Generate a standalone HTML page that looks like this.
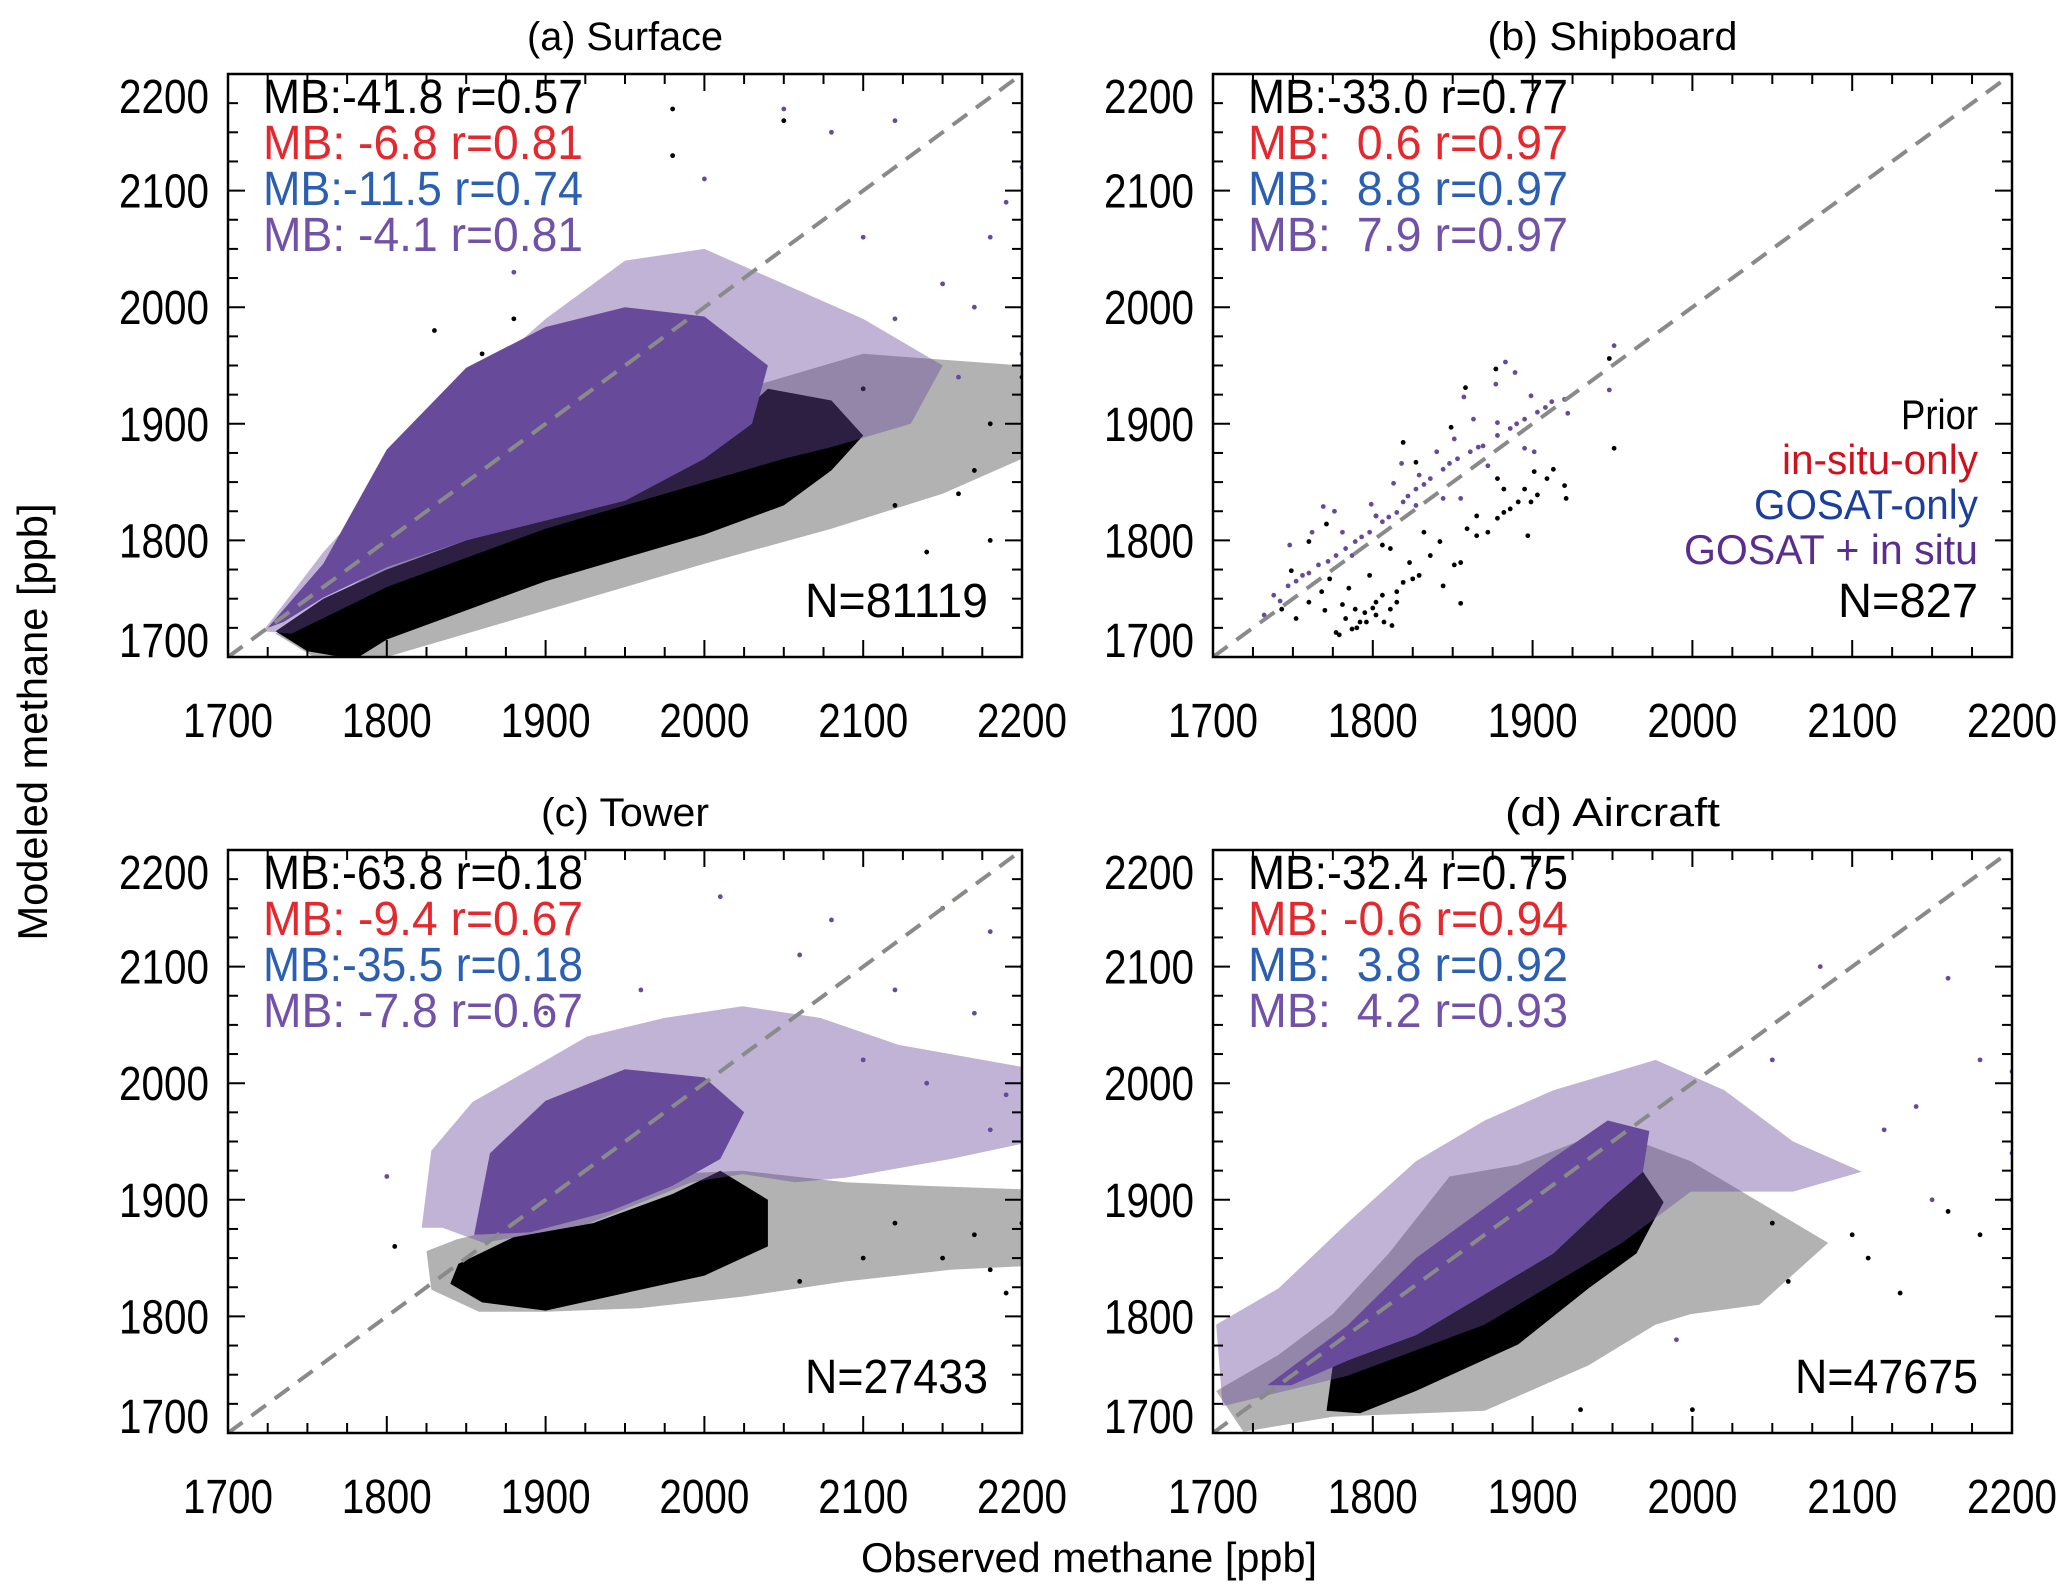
<!DOCTYPE html>
<html><head><meta charset="utf-8"><style>
html,body{margin:0;padding:0;background:#fff;}
svg{display:block;font-family:"Liberation Sans",Arial,sans-serif;}
text{white-space:pre;}
</style></head><body>
<svg id="fig" width="2067" height="1596" viewBox="0 0 2067 1596" xmlns="http://www.w3.org/2000/svg">
<text x="1089" y="1572" font-size="42" text-anchor="middle" textLength="456" lengthAdjust="spacingAndGlyphs">Observed methane [ppb]</text>
<text x="0" y="0" font-size="42" text-anchor="middle" textLength="437" lengthAdjust="spacingAndGlyphs" transform="translate(47,722) rotate(-90)">Modeled methane [ppb]</text>
</svg>
<script>
const tickVals = [1700,1800,1900,2000,2100,2200];
const tickLabels = ["1700","1800","1900","2000","2100","2200"];
const panelTitles = ["(a) Surface","(b) Shipboard","(c) Tower","(d) Aircraft"];
const panelCounts = ["N=81119","N=827","N=27433","N=47675"];
const statsA = ["MB:-41.8 r=0.57","MB: -6.8 r=0.81","MB:-11.5 r=0.74","MB: -4.1 r=0.81"];
const statsB = ["MB:-33.0 r=0.77","MB:  0.6 r=0.97","MB:  8.8 r=0.97","MB:  7.9 r=0.97"];
const statsC = ["MB:-63.8 r=0.18","MB: -9.4 r=0.67","MB:-35.5 r=0.18","MB: -7.8 r=0.67"];
const statsD = ["MB:-32.4 r=0.75","MB: -0.6 r=0.94","MB:  3.8 r=0.92","MB:  4.2 r=0.93"];
const legendLabels = ["Prior","in-situ-only","GOSAT-only","GOSAT + in situ"];

// Panel (a) Surface
const aBlackHalo = [[1730,1720],[1800,1780],[1850,1850],[1900,1900],[2000,1920],[2100,1960],[2200,1950],[2200,1870],[2150,1840],[2080,1810],[2000,1780],[1900,1740],[1800,1700],[1760,1695]];
const aBlackCore = [[1730,1722],[1750,1705],[1780,1698],[1800,1715],[1850,1740],[1900,1765],[1950,1785],[2000,1805],[2050,1830],[2080,1860],[2100,1890],[2080,1920],[2040,1930],[2000,1880],[1950,1840],[1900,1820],[1850,1800],[1800,1775],[1760,1750]];
const aPurpleHalo = [[1722,1722],[1760,1790],[1800,1850],[1850,1930],[1900,1990],[1950,2040],[2000,2050],[2050,2020],[2100,1990],[2150,1950],[2130,1900],[2080,1880],[2050,1870],[2000,1850],[1900,1810],[1800,1760],[1740,1720]];
const aPurpleCore = [[1725,1725],[1760,1780],[1800,1878],[1850,1948],[1900,1983],[1950,2000],[2000,1992],[2040,1950],[2030,1900],[2000,1870],[1950,1834],[1900,1817],[1850,1800],[1800,1777],[1760,1751],[1735,1730]];
const aBlackPts = [[1980,2170],[2050,2160],[1980,2130],[1830,1980],[2100,1930],[2180,1900],[2180,1800],[2160,1840],[1810,1730],[1900,1970],[2200,1940],[2140,1790],[1860,1960],[1880,1990],[2170,1860],[2120,1830]];
const aPurplePts = [[2050,2170],[2080,2150],[2120,2160],[2200,2120],[2000,2110],[2180,2060],[2150,2020],[2200,1960],[2120,1990],[2170,2000],[1880,2030],[2190,2090],[2100,2060],[2160,1940]];

// Panel (b) Shipboard
const bBlackPts = [[1743,1741],[1752,1733],[1760,1747],[1768,1756],[1777,1721],[1779,1719],[1783,1733],[1789,1741],[1796,1730],[1802,1747],[1806,1753],[1811,1741],[1815,1756],[1819,1764],[1785,1759],[1773,1767],[1798,1770],[1811,1793],[1823,1781],[1829,1770],[1836,1787],[1842,1799],[1844,1761],[1851,1779],[1855,1781],[1859,1810],[1865,1821],[1872,1807],[1878,1819],[1882,1824],[1886,1827],[1891,1833],[1895,1844],[1899,1833],[1903,1839],[1909,1853],[1913,1861],[1920,1847],[1921,1836],[1878,1853],[1882,1844],[1901,1859],[1897,1804],[1865,1804],[1832,1807],[1806,1796],[1802,1821],[1819,1884],[1827,1867],[1849,1897],[1858,1931],[1877,1947],[1948,1956],[1951,1879],[1855,1746],[1760,1799],[1771,1814],[1749,1774],[1792,1730],[1802,1736],[1807,1730],[1815,1747],[1825,1767],[1790,1725],[1795,1738],[1812,1727],[1781,1745],[1770,1740],[1787,1724],[1800,1742]];
const bPurplePts = [[1732,1736],[1738,1753],[1747,1761],[1756,1770],[1766,1779],[1777,1787],[1783,1793],[1789,1799],[1798,1807],[1806,1816],[1815,1824],[1819,1833],[1827,1844],[1836,1853],[1844,1861],[1853,1870],[1861,1876],[1869,1881],[1878,1890],[1886,1896],[1895,1904],[1903,1910],[1912,1919],[1920,1921],[1769,1829],[1776,1825],[1748,1796],[1762,1807],[1799,1831],[1818,1866],[1813,1849],[1840,1876],[1851,1887],[1857,1923],[1863,1904],[1877,1934],[1883,1953],[1889,1944],[1948,1929],[1951,1967],[1899,1924],[1827,1830],[1844,1836],[1855,1836],[1895,1879],[1901,1876],[1922,1909],[1787,1787],[1781,1807],[1802,1821],[1829,1856],[1872,1864],[1878,1901],[1742,1748],[1752,1765],[1760,1772],[1772,1782],[1793,1803],[1810,1820],[1822,1838],[1832,1848],[1848,1866],[1866,1880],[1890,1900],[1908,1914]];

// Panel (c) Tower
const cBlackHalo = [[1825,1856],[1844,1866],[1893,1882],[1975,1922],[2024,1925],[2089,1915],[2138,1912],[2200,1909],[2200,1843],[2155,1840],[2089,1830],[2024,1817],[1959,1807],[1900,1804],[1858,1804],[1828,1823]];
const cBlackCore = [[1845,1845],[1880,1868],[1930,1880],[1980,1905],[2010,1925],[2040,1900],[2040,1860],[2000,1835],[1950,1820],[1900,1805],[1860,1812],[1840,1828]];
const cPurpleHalo = [[1822,1876],[1828,1942],[1854,1984],[1893,2014],[1926,2040],[1975,2056],[2024,2066],[2073,2056],[2122,2033],[2200,2014],[2200,1948],[2155,1935],[2089,1919],[2057,1915],[2024,1922],[1992,1915],[1926,1879],[1861,1863],[1835,1876]];
const cPurpleCore = [[1855,1870],[1865,1940],[1900,1985],[1950,2012],[2000,2005],[2025,1975],[2010,1935],[1980,1912],[1940,1890],[1890,1872]];
const cBlackPts = [[1805,1860],[2200,1880],[2190,1820],[2150,1850],[2120,1880],[2170,1870],[2060,1830],[1990,1950],[2180,1840],[2100,1850]];
const cPurplePts = [[2010,2160],[2080,2140],[2150,2150],[2180,2130],[2200,2100],[1960,2080],[2120,2080],[1900,2060],[1800,1920],[2060,2110],[2170,2060],[2100,2020],[2190,1990],[2140,2000],[2180,1960]];

// Panel (d) Aircraft
const dBlackHalo = [[1702,1736],[1741,1767],[1775,1802],[1810,1854],[1848,1920],[1891,1930],[1947,1960],[1999,1933],[2042,1898],[2085,1863],[2042,1810],[1999,1802],[1977,1793],[1935,1758],[1870,1719],[1775,1714],[1719,1701]];
const dBlackCore = [[1771,1719],[1775,1758],[1827,1784],[1870,1819],[1913,1854],[1947,1898],[1969,1924],[1982,1898],[1965,1854],[1935,1824],[1891,1776],[1827,1736],[1792,1717]];
const dPurpleHalo = [[1702,1793],[1741,1824],[1784,1880],[1827,1933],[1870,1968],[1913,1994],[1977,2020],[2020,1994],[2063,1950],[2106,1924],[2063,1907],[1999,1907],[1956,1863],[1870,1793],[1784,1749],[1706,1723]];
const dPurpleCore = [[1734,1741],[1784,1792],[1827,1850],[1870,1893],[1913,1936],[1947,1968],[1973,1959],[1969,1924],[1947,1898],[1913,1854],[1870,1819],[1827,1784],[1784,1762],[1749,1741]];
const dBlackPts = [[2100,1870],[2180,1870],[2060,1830],[2130,1820],[2000,1720],[1930,1720],[2050,1880],[2110,1850],[2200,1900],[2160,1890]];
const dPurplePts = [[2150,1900],[2120,1960],[2200,1940],[2080,2100],[2160,2090],[2200,2010],[2050,2020],[2140,1980],[2180,2020],[1990,1780]];

const COL = {black:"#000", purple:"#684a9b", red:"#e3282e", blue:"#2b5fb2", purpleTxt:"#7152a8"};
const legendColors = ["#000","#d0101c","#1c3f9c","#5a2d8f"];
const statColors = ["#000", COL.red, COL.blue, COL.purpleTxt];

const NS = "http://www.w3.org/2000/svg";
const svg = document.getElementById('fig');
function mk(tag, attrs, parent){ const e=document.createElementNS(NS,tag); for(const k in attrs) e.setAttribute(k,attrs[k]); (parent||svg).appendChild(e); return e; }

const boxes = [
  {L:228,R:1022,T:74,B:657},
  {L:1213,R:2012,T:74,B:657},
  {L:228,R:1022,T:850,B:1433},
  {L:1213,R:2012,T:850,B:1433}
];
const clouds = [
  [aBlackHalo,aBlackCore,aPurpleHalo,aPurpleCore,aBlackPts,aPurplePts],
  [null,null,null,null,bBlackPts,bPurplePts],
  [cBlackHalo,cBlackCore,cPurpleHalo,cPurpleCore,cBlackPts,cPurplePts],
  [dBlackHalo,dBlackCore,dPurpleHalo,dPurpleCore,dBlackPts,dPurplePts]
];
const stats = [statsA,statsB,statsC,statsD];
const keys = ['a','b','c','d'];
const titleLens = [196,250,168,215];
const countLens = [183,140,183,183];
const legendLens = [77,196,224,294];

boxes.forEach((b,i)=>{
  const sx = v => b.L + (v-1700)/500*(b.R-b.L);
  const sy = v => b.B - (v-1700)/500*(b.B-b.T);
  const g = mk('g',{});
  
  
  const clipId='clip'+i;
  const cp = mk('clipPath',{id:clipId},g);
  mk('rect',{x:b.L,y:b.T,width:b.R-b.L,height:b.B-b.T},cp);
  const pg = mk('g',{'clip-path':'url(#'+clipId+')'},g);
  const [bh,bc,ph,pc,bp,pp] = clouds[i];
  function poly(pts,color,op,name){
    if(!pts) return;
    const d = pts.map((p,j)=>(j?'L':'M')+sx(p[0]).toFixed(1)+','+sy(p[1]).toFixed(1)).join(' ')+'Z';
    const e = mk('path',{d:d,fill:color,'fill-opacity':op,stroke:'none'},pg);
    
    
  }
  function dots(pts,color,name){
    pts.forEach(p=>{
      const c = mk('circle',{cx:sx(p[0]),cy:sy(p[1]),r:2.4,fill:color},pg);
      
      
    });
  }
  poly(bh,'#000',0.3,'prior-sparse-cloud');
  poly(bc,'#000',1,'prior-dense-cloud');
  dots(bp,'#000','prior-point');
  poly(ph,COL.purple,0.42,'combined-sparse-cloud');
  poly(pc,COL.purple,1,'combined-dense-cloud');
  dots(pp,COL.purple,'combined-point');
  const ln = mk('line',{x1:sx(1700),y1:sy(1700),x2:sx(2200),y2:sy(2200),stroke:'#8a8a8a','stroke-width':4,'stroke-dasharray':'18 11'},pg);
  
  
  const fr = mk('rect',{x:b.L,y:b.T,width:b.R-b.L,height:b.B-b.T,fill:'none',stroke:'#000','stroke-width':2.5},g);
  
  
  for(let v=1700; v<=2200; v+=25){
    const major = (v%100===0), len = major?17:10;
    const x=sx(v), y=sy(v);
    mk('line',{x1:x,y1:b.B,x2:x,y2:b.B-len,stroke:'#000','stroke-width':2},g);
    mk('line',{x1:x,y1:b.T,x2:x,y2:b.T+len,stroke:'#000','stroke-width':2},g);
    mk('line',{x1:b.L,y1:y,x2:b.L+len,y2:y,stroke:'#000','stroke-width':2},g);
    mk('line',{x1:b.R,y1:y,x2:b.R-len,y2:y,stroke:'#000','stroke-width':2},g);
  }
  tickVals.forEach((v,j)=>{
    const tx = mk('text',{x:sx(v),y:b.B+80,'font-size':48,'text-anchor':'middle',textLength:90,lengthAdjust:'spacingAndGlyphs'},g);
    tx.textContent = tickLabels[j];
    
    
    let yy = sy(v)+17;
    if(j===tickVals.length-1) yy += 22;
    if(j===0) yy -= 17;
    const ty = mk('text',{x:b.L-19,y:yy,'font-size':48,'text-anchor':'end',textLength:90,lengthAdjust:'spacingAndGlyphs'},g);
    ty.textContent = tickLabels[j];
    
    
  });
  const tt = mk('text',{x:(b.L+b.R)/2,y:b.T-24,'font-size':40,'text-anchor':'middle',textLength:titleLens[i],lengthAdjust:'spacingAndGlyphs'},g);
  tt.textContent = panelTitles[i];
  
  
  stats[i].forEach((s,j)=>{
    const st = mk('text',{x:b.L+35,y:b.T+39+j*46,'font-size':48,fill:statColors[j],textLength:320,lengthAdjust:'spacingAndGlyphs'},g);
    st.textContent = s;
    
    
  });
  const nt = mk('text',{x:b.R-34,y:b.B-40,'font-size':48,'text-anchor':'end',textLength:countLens[i],lengthAdjust:'spacingAndGlyphs'},g);
  nt.textContent = panelCounts[i];
  
  
  if(i===1){
    legendLabels.forEach((s,j)=>{
      const lt = mk('text',{x:b.R-34,y:429+j*45,'font-size':42,'text-anchor':'end',fill:legendColors[j],textLength:legendLens[j],lengthAdjust:'spacingAndGlyphs'},g);
      lt.textContent = s;
      
      
    });
  }
});
</script>
</body></html>
